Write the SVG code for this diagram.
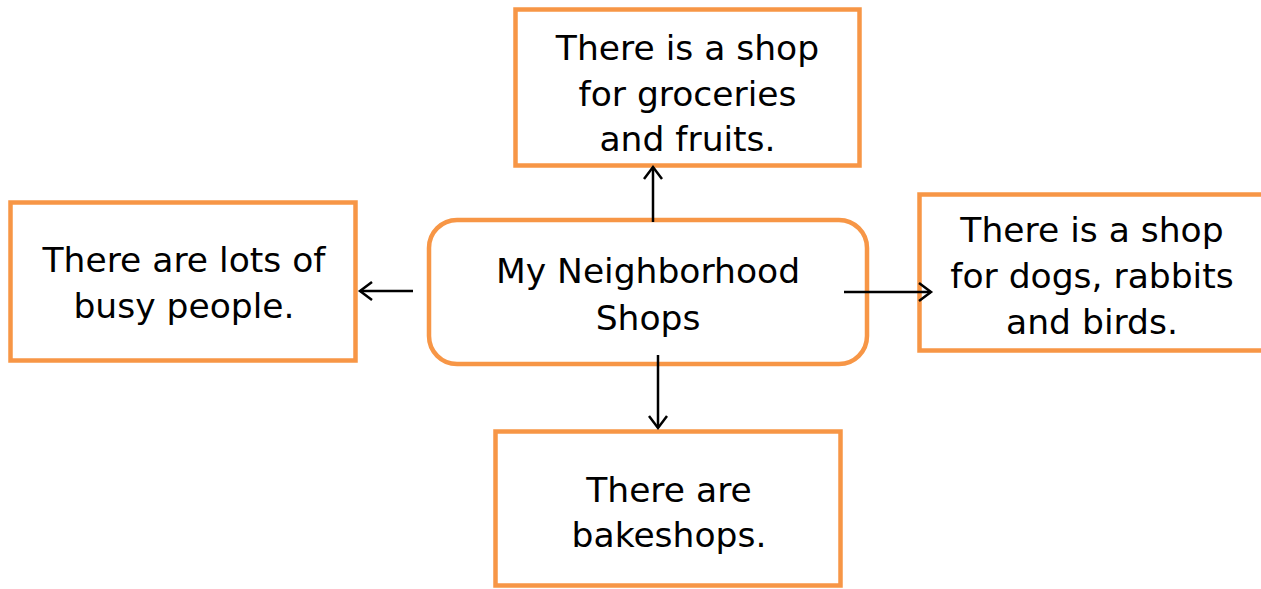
<svg xmlns="http://www.w3.org/2000/svg" width="1261" height="589" viewBox="0 0 1261 589">
<style>
.box{fill:#fff;stroke:#F79646;stroke-width:4.5}
.t{font-family:"DejaVu Sans","Liberation Sans",sans-serif;font-size:34.5px;fill:#000;text-anchor:middle}
.c{stroke:#000;stroke-width:2.5;fill:none}
</style>
<defs>
<marker id="arr" markerWidth="16" markerHeight="22" refX="13" refY="11" orient="auto" markerUnits="userSpaceOnUse">
<path d="M1,2 L13,11 L1,20" fill="none" stroke="#000" stroke-width="2.5"/>
</marker>
</defs>
<rect width="1261" height="589" fill="#fff"/>
<g id="top">
<rect class="box" x="515.5" y="9.5" width="344" height="156"/>
<text class="t" x="687.5" y="60">There is a shop</text>
<text class="t" x="687.5" y="106">for groceries</text>
<text class="t" x="687.5" y="151">and fruits.</text>
</g>
<g id="left">
<rect class="box" x="10.5" y="202.5" width="345" height="158"/>
<text class="t" x="184" y="272">There are lots of</text>
<text class="t" x="184" y="318">busy people.</text>
</g>
<g id="right">
<rect class="box" x="919.5" y="194.5" width="350" height="156"/>
<text class="t" x="1092" y="242">There is a shop</text>
<text class="t" x="1092" y="288">for dogs, rabbits</text>
<text class="t" x="1092" y="334">and birds.</text>
</g>
<g id="bottom">
<rect class="box" x="495.5" y="431.5" width="345" height="154"/>
<text class="t" x="669" y="502">There are</text>
<text class="t" x="669" y="547">bakeshops.</text>
</g>
<g id="center">
<rect class="box" x="429" y="220" width="438" height="144" rx="28"/>
<text class="t" x="648" y="283">My Neighborhood</text>
<text class="t" x="648" y="330">Shops</text>
</g>
<g id="connectors">
<line class="c" x1="653" y1="222" x2="653" y2="167" marker-end="url(#arr)"/>
<line class="c" x1="413" y1="291" x2="360" y2="291" marker-end="url(#arr)"/>
<line class="c" x1="844" y1="292" x2="931" y2="292" marker-end="url(#arr)"/>
<line class="c" x1="658" y1="355" x2="658" y2="428" marker-end="url(#arr)"/>
</g>
</svg>
